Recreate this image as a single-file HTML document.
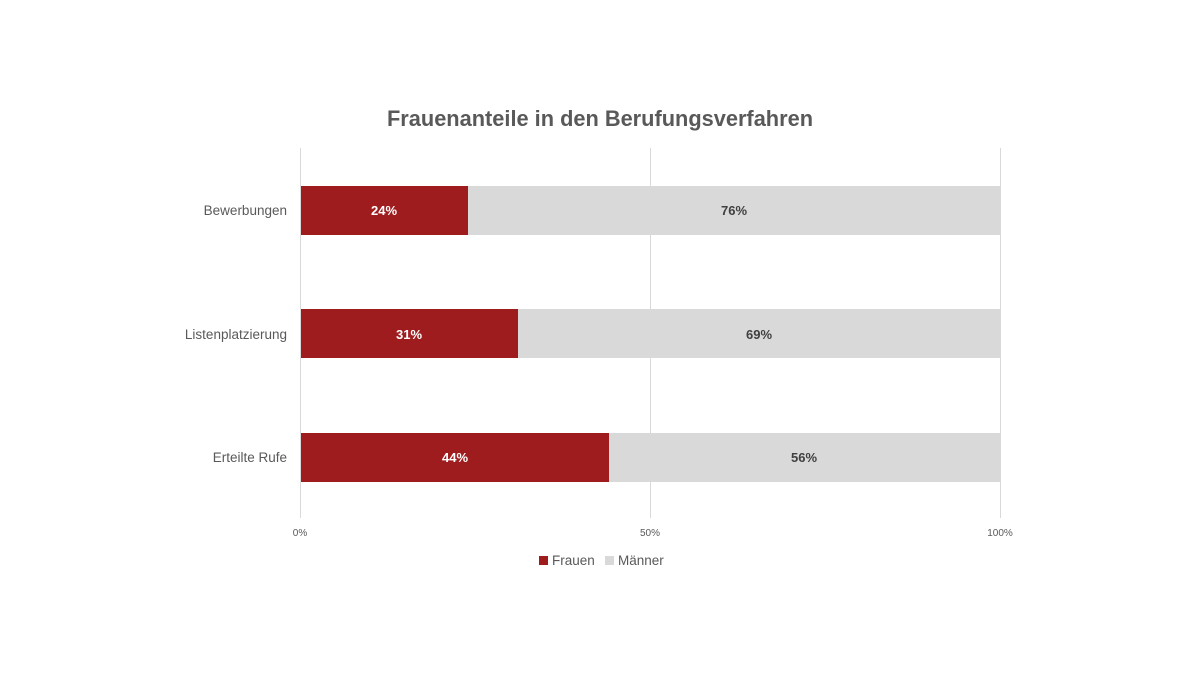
<!DOCTYPE html>
<html><head><meta charset="utf-8"><style>html,body{margin:0;padding:0;background:#fff}</style></head>
<body>
<svg width="1200" height="675" xmlns="http://www.w3.org/2000/svg" font-family="Liberation Sans, sans-serif">
<rect width="1200" height="675" fill="#fff"/>
<text x="600" y="126" text-anchor="middle" font-size="22" font-weight="bold" fill="#595959" textLength="426" lengthAdjust="spacingAndGlyphs">Frauenanteile in den Berufungsverfahren</text>
<g stroke="#d9d9d9" stroke-width="1">
<line x1="300.5" y1="148" x2="300.5" y2="518"/>
<line x1="650.5" y1="148" x2="650.5" y2="518"/>
<line x1="1000.5" y1="148" x2="1000.5" y2="518"/>
</g>
<g>
<rect x="301" y="186" width="167" height="49" fill="#9e1b1e"/>
<rect x="468" y="186" width="532" height="49" fill="#d9d9d9"/>
<rect x="301" y="309" width="217" height="49" fill="#9e1b1e"/>
<rect x="518" y="309" width="482" height="49" fill="#d9d9d9"/>
<rect x="301" y="433" width="308" height="49" fill="#9e1b1e"/>
<rect x="609" y="433" width="391" height="49" fill="#d9d9d9"/>
</g>
<g font-size="13" font-weight="bold" text-anchor="middle">
<text x="384" y="215" fill="#fff">24%</text>
<text x="734" y="215" fill="#404040">76%</text>
<text x="409" y="339" fill="#fff">31%</text>
<text x="759" y="339" fill="#404040">69%</text>
<text x="455" y="462" fill="#fff">44%</text>
<text x="804" y="462" fill="#404040">56%</text>
</g>
<g font-size="13.5" fill="#595959" text-anchor="end">
<text x="287" y="215">Bewerbungen</text>
<text x="287" y="339">Listenplatzierung</text>
<text x="287" y="462">Erteilte Rufe</text>
</g>
<g font-size="10" fill="#595959" text-anchor="middle">
<text x="300" y="536">0%</text>
<text x="650" y="536">50%</text>
<text x="1000" y="536">100%</text>
</g>
<rect x="539" y="556" width="9" height="9" fill="#9e1b1e"/>
<text x="552" y="565" font-size="13.5" fill="#595959">Frauen</text>
<rect x="605" y="556" width="9" height="9" fill="#d9d9d9"/>
<text x="618" y="565" font-size="13.5" fill="#595959">Männer</text>
</svg>
</body></html>
